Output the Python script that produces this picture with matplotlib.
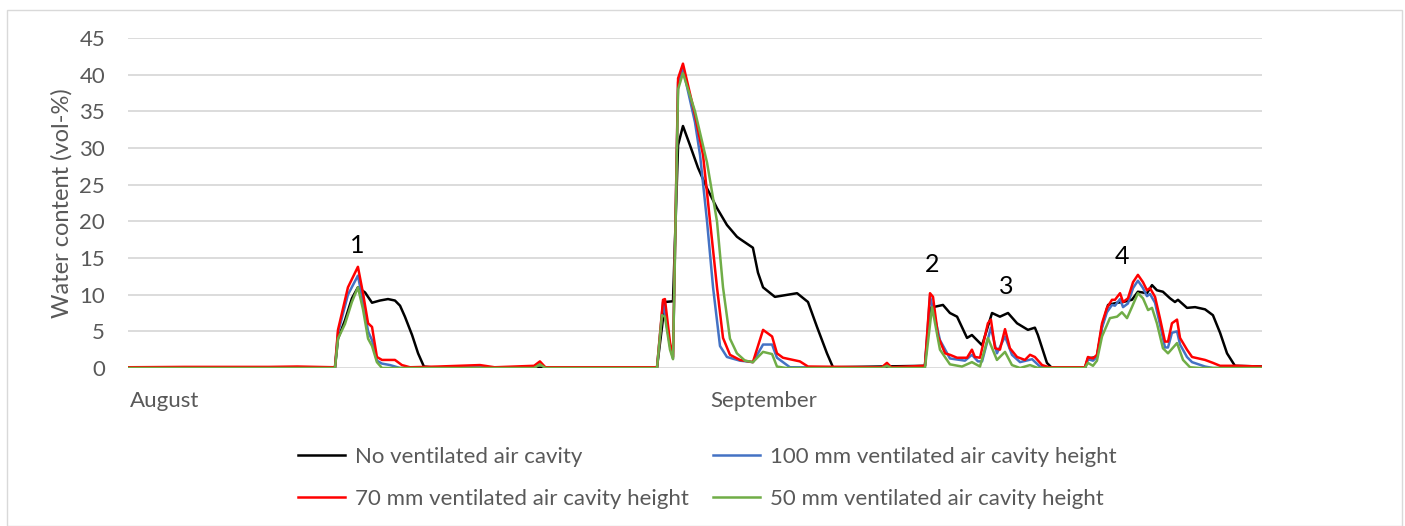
import matplotlib
matplotlib.use("Agg")
import matplotlib.pyplot as plt
from matplotlib.patches import Rectangle

plt.rcParams['font.family'] = ['Lato', 'DejaVu Sans']

# ---- data (x = days since 1 August, y = water content vol-%) ----
x_none = [0, 5, 11.01, 11.17, 11.54, 11.91, 12.23, 12.61, 12.98, 13.40, 13.83, 14.20, 14.47, 14.73,
          15.11, 15.43, 15.74, 16.5, 28.14, 28.40, 28.56, 28.99, 29.26, 29.52, 29.89, 30.32, 30.80,
          31.33, 31.86, 32.39, 32.55, 33.24, 33.51, 33.78, 34.41, 35.59, 36.17, 36.65, 37.18, 37.50,
          42.39, 42.66, 43.35, 43.72, 44.10, 44.63, 44.89, 45.43, 45.96, 46.38, 46.81, 47.29, 47.87,
          48.24, 48.40, 48.88, 49.15, 50.90, 51.06, 51.54, 51.81, 52.13, 52.61, 52.93, 53.40, 53.72,
          54.20, 54.47, 54.73, 55.05, 55.43, 55.69, 55.85, 56.33, 56.76, 57.29, 57.71, 58.09, 58.46,
          58.88, 60.32]
y_none = [0.1, 0.1, 0.1, 4.0, 6.5, 9.5, 11.0, 10.3, 8.9, 9.2, 9.4, 9.2, 8.5, 7.0,
          4.5, 2.0, 0.2, 0.0, 0.1, 5.5, 9.0, 9.1, 30.4, 33.0, 30.4, 27.3, 24.5,
          21.8, 19.5, 17.9, 17.6, 16.4, 13.0, 11.0, 9.7, 10.2, 9.0, 5.6, 2.0, 0.1,
          0.3, 8.2, 8.6, 7.5, 7.0, 4.1, 4.5, 3.1, 7.5, 7.0, 7.5, 6.1, 5.2,
          5.5, 4.5, 0.7, 0.0, 0.0, 1.3, 1.5, 5.7, 8.6, 8.9, 9.0, 9.3, 10.4,
          10.2, 11.3, 10.6, 10.4, 9.5, 9.0, 9.3, 8.2, 8.3, 8.0, 7.2, 4.8, 2.0,
          0.3, 0.2]

x_100 = [0, 11.01, 11.17, 11.70, 12.23, 12.50, 12.77, 12.98, 13.24, 13.51, 13.94, 14.47, 21.6, 21.91,
         22.2, 28.14, 28.46, 28.83, 28.99, 29.26, 29.52, 30.16, 30.43, 30.80, 31.12, 31.49, 31.86,
         32.55, 33.24, 33.78, 34.26, 34.52, 35.21, 40.1, 40.37, 40.6, 42.39, 42.66, 43.19, 43.72,
         44.52, 44.89, 45.21, 45.43, 45.90, 46.22, 46.65, 47.02, 47.45, 48.09, 48.51, 49.0, 50.90,
         51.06, 51.33, 51.54, 51.81, 52.07, 52.34, 52.50, 52.77, 52.93, 53.19, 53.46, 53.72, 53.99,
         54.20, 54.36, 54.63, 54.89, 55.16, 55.32, 55.53, 55.80, 55.96, 56.33, 56.60, 57.29, 57.71,
         60.32]
y_100 = [0.05, 0.05, 4.8, 10.0, 12.6, 9.0, 5.0, 3.8, 1.0, 0.6, 0.4, 0.0, 0.1, 0.6,
         0.05, 0.05, 9.0, 3.0, 1.3, 39.0, 40.8, 33.5, 29.0, 20.0, 11.0, 3.0, 1.5,
         1.0, 0.8, 3.2, 3.2, 1.4, 0.1, 0.05, 0.4, 0.05, 0.2, 9.8, 3.8, 1.3,
         1.0, 1.8, 0.9, 0.9, 5.5, 2.0, 4.3, 1.8, 0.8, 1.2, 0.2, 0.0, 0.0,
         1.2, 1.0, 1.5, 5.5, 7.6, 8.6, 8.5, 9.4, 8.3, 8.8, 10.9, 11.9, 10.9,
         9.8, 10.1, 8.9, 6.0, 2.8, 2.8, 4.8, 5.0, 3.2, 1.5, 0.8, 0.2, 0.0,
         0.0]

x_70 = [0, 3, 7.5, 9, 11.01, 11.17, 11.70, 12.23, 12.50, 12.77, 12.98, 13.24, 13.51, 14.20, 14.57,
        15.0, 16.5, 18.72, 19.5, 21.6, 21.91, 22.2, 28.14, 28.46, 28.56, 28.83, 28.99, 29.26, 29.52,
        30.16, 30.59, 30.96, 31.33, 31.65, 32.02, 32.55, 33.24, 33.78, 34.26, 34.52, 34.84, 35.74,
        36.17, 40.1, 40.37, 40.6, 42.39, 42.66, 42.82, 43.09, 43.46, 43.72, 44.10, 44.63, 44.89,
        45.05, 45.32, 45.74, 45.90, 46.12, 46.38, 46.65, 46.91, 47.29, 47.71, 47.98, 48.24, 48.62,
        49.0, 50.90, 51.06, 51.33, 51.54, 51.81, 52.07, 52.34, 52.50, 52.77, 52.93, 53.19, 53.46,
        53.72, 53.99, 54.20, 54.36, 54.63, 54.89, 55.16, 55.32, 55.53, 55.80, 55.96, 56.33, 56.60,
        57.29, 57.71, 58.09, 58.99, 60.32]
y_70 = [0.1, 0.15, 0.15, 0.2, 0.1, 5.2, 11.0, 13.8, 10.2, 6.1, 5.6, 1.5, 1.1, 1.1, 0.4,
        0.1, 0.2, 0.4, 0.1, 0.3, 0.9, 0.1, 0.1, 9.3, 9.4, 3.5, 1.5, 39.5, 41.5,
        34.5, 29.0, 20.0, 11.0, 4.1, 1.8, 1.1, 0.8, 5.2, 4.3, 2.0, 1.4, 0.9,
        0.2, 0.1, 0.7, 0.1, 0.3, 10.2, 9.7, 4.3, 2.0, 1.8, 1.4, 1.4, 2.5,
        1.5, 1.4, 6.1, 6.6, 2.7, 2.5, 5.3, 2.7, 1.5, 1.1, 1.8, 1.5, 0.4,
        0.1, 0.1, 1.5, 1.3, 1.8, 6.1, 8.2, 9.3, 9.3, 10.2, 9.0, 9.5, 11.7,
        12.7, 11.7, 10.6, 10.9, 9.7, 6.8, 3.6, 3.6, 6.1, 6.6, 4.1, 2.5, 1.5,
        1.1, 0.7, 0.3, 0.3, 0.2]

x_50 = [0, 11.01, 11.17, 11.54, 11.91, 12.23, 12.50, 12.77, 12.98, 13.24, 13.51, 21.6, 21.91, 22.2,
        28.14, 28.40, 28.56, 28.83, 28.99, 29.26, 29.52, 30.16, 30.80, 31.33, 31.65, 32.02, 32.39,
        32.82, 33.24, 33.78, 34.26, 34.52, 35.0, 40.1, 40.37, 40.6, 42.39, 42.77, 43.19, 43.72,
        44.36, 44.89, 45.32, 45.74, 46.22, 46.65, 47.02, 47.45, 47.98, 48.40, 50.90, 51.06, 51.33,
        51.54, 51.81, 52.23, 52.61, 52.87, 53.14, 53.40, 53.72, 53.99, 54.26, 54.47, 54.73, 55.05,
        55.32, 55.80, 56.12, 56.49, 57.0, 60.32]
y_50 = [0.0, 0.0, 4.0, 6.0, 9.0, 11.0, 8.0, 4.0, 3.0, 0.8, 0.0, 0.0, 0.5, 0.0,
        0.0, 7.2, 7.0, 2.5, 1.2, 38.0, 40.2, 35.0, 28.0, 20.0, 11.0, 4.0, 2.0,
        1.0, 0.8, 2.2, 1.9, 0.2, 0.0, 0.0, 0.3, 0.0, 0.0, 8.3, 2.5, 0.5,
        0.2, 0.8, 0.2, 4.1, 1.1, 2.2, 0.4, 0.0, 0.4, 0.0, 0.0, 0.7, 0.3,
        1.0, 4.3, 6.8, 7.0, 7.6, 6.8, 8.3, 10.2, 9.5, 7.9, 8.2, 6.1, 2.7,
        2.0, 3.4, 1.1, 0.1, 0.0, 0.0]

labels = ["No ventilated air cavity", "100 mm ventilated air cavity height",
          "70 mm ventilated air cavity height", "50 mm ventilated air cavity height"]
month_labels = ["August", "September"]
month_pos = [0.1, 31.0]
events = ["1", "2", "3", "4"]
event_pos = [(12.2, 15.2), (42.75, 12.6), (46.7, 9.6), (52.85, 13.7)]
y_ticks = [0, 5, 10, 15, 20, 25, 30, 35, 40, 45]

# ---- figure ----
W, H = 1405, 526
fig = plt.figure(figsize=(W / 100, H / 100), dpi=100)
fig.patches.append(Rectangle((7 / W, 0.0), 1395 / W, 1 - 10 / H, transform=fig.transFigure,
                             fill=False, edgecolor="#D9D9D9", linewidth=1.0))
ax = fig.add_axes([128 / W, 1 - 368 / H, (1262 - 128) / W, (368 - 38) / H])

lw = 1.8
l_none, = ax.plot(x_none, y_none, color="#000000", lw=lw, label=labels[0])
l_100, = ax.plot(x_100, y_100, color="#4472C4", lw=lw, label=labels[1])
l_70, = ax.plot(x_70, y_70, color="#FF0000", lw=lw, label=labels[2])
l_50, = ax.plot(x_50, y_50, color="#70AD47", lw=lw, label=labels[3])

ax.set_xlim(0, 60.32)
ax.set_ylim(0, 45)
ax.set_yticks(y_ticks)
ax.yaxis.grid(True, color="#D9D9D9", lw=1.3)
ax.set_axisbelow(True)
ax.set_xticks([])
for s in ax.spines.values():
    s.set_visible(False)
ax.tick_params(axis="y", length=0, pad=16.5, labelsize=16, labelcolor="#595959")
ax.set_ylabel("Water content (vol-%)", fontsize=17, color="#595959", labelpad=5)

for lab, pos in zip(month_labels, month_pos):
    ax.text(pos, -3.1, lab, ha="left", va="top", fontsize=16, color="#595959")
for lab, (px, py) in zip(events, event_pos):
    ax.text(px, py, lab, ha="center", va="bottom", fontsize=18, color="#000000")

leg = fig.legend([l_none, l_70, l_100, l_50],
                 [labels[0], labels[2], labels[1], labels[3]],
                 ncol=2, loc="center", bbox_to_anchor=(707 / W, 1 - 478 / H),
                 frameon=False, fontsize=16, handlelength=2.1, handletextpad=0.45,
                 columnspacing=1.1, labelspacing=1.0)
for t in leg.get_texts():
    t.set_color("#595959")

fig.savefig("out.png", dpi=100)
